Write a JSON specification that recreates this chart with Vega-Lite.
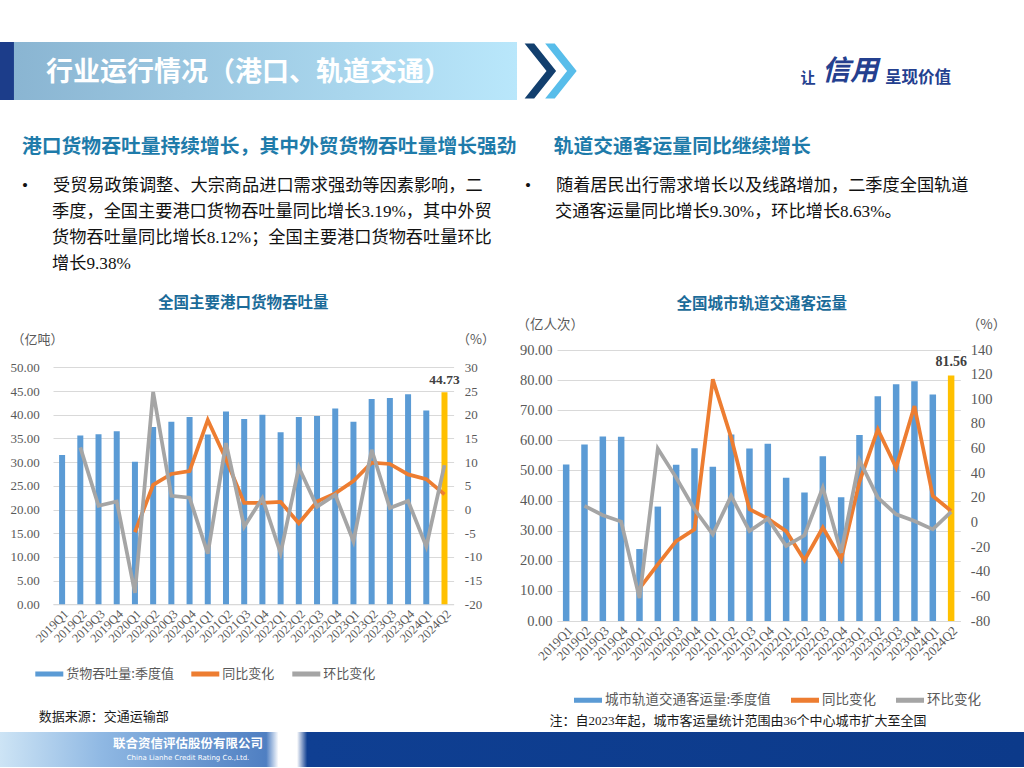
{
  "$schema": "https://vega.github.io/schema/vega-lite/v6.json",
  "padding": {"top": 42, "left": 0, "right": 0, "bottom": 0},
  "background": "white",
  "config": {
    "view": {"stroke": null},
    "axis": {"labelFont": "Liberation Serif", "labelColor": "#595959", "ticks": false, "tickSize": 0, "domain": false, "grid": false, "titleFont": "Noto Sans CJK SC", "titleFontWeight": "normal", "titleColor": "#595959", "labelOverlap": false},
    "title": {"font": "Noto Sans CJK SC", "fontWeight": "bold", "fontSize": 15.5, "color": "#1b6b99", "anchor": "middle", "frame": "group"}
  },
  "spacing": 37,
  "vconcat": [
    {
      "spacing": 0,
      "hconcat": [
        {
          "width": 517, "height": 58,
          "data": {"values": [{}]},
          "layer": [
            {"mark": {"type": "rect", "color": {"gradient": "linear", "x1": 0, "x2": 1, "y1": 0, "y2": 0, "stops": [{"offset": 0, "color": "#1c3d8a"}, {"offset": 0.026, "color": "#1c3d8a"}, {"offset": 0.028, "color": "#8ab5d2"}, {"offset": 1, "color": "#b9e7fb"}]}}},
            {"mark": {"type": "text", "text": "行业运行情况（港口、轨道交通）", "font": "Noto Sans CJK SC", "fontSize": 27, "fontWeight": "bold", "color": "#ffffff", "align": "center", "baseline": "middle", "dx": -10, "dy": 2}}
          ]
        },
        {
          "width": 70, "height": 58,
          "data": {"values": [{}]},
          "layer": [
            {"mark": {"type": "point", "shape": "M-1,-1L-0.65,-1L0.15,0L-0.65,1L-1,1L-0.2,0Z", "size": 3000, "filled": true, "color": "#123f6e", "opacity": 1, "strokeWidth": 0}},
            {"mark": {"type": "point", "shape": "M-0.25,-1L0.1,-1L0.9,0L0.1,1L-0.25,1L0.55,0Z", "size": 3000, "filled": true, "color": "#58bdea", "opacity": 1, "strokeWidth": 0}}
          ]
        },
        {
          "width": 437, "height": 58,
          "data": {"values": [{}]},
          "layer": [
            {"mark": {"type": "text", "text": "让", "font": "Noto Sans CJK SC", "fontSize": 15, "fontWeight": "bold", "color": "#24408f", "align": "center", "baseline": "middle", "dx": 2.5, "dy": 7}},
            {"mark": {"type": "text", "text": "信用", "font": "Noto Sans CJK SC", "fontSize": 28, "fontWeight": "bold", "fontStyle": "italic", "color": "#24408f", "align": "center", "baseline": "middle", "dx": 44.5, "dy": 1}},
            {"mark": {"type": "text", "text": "呈现价值", "font": "Noto Sans CJK SC", "fontSize": 16.5, "fontWeight": "bold", "color": "#24408f", "align": "center", "baseline": "middle", "dx": 112.5, "dy": 7}}
          ]
        }
      ]
    },
    {
      "spacing": 22,
      "vconcat": [
        {
          "spacing": 6,
          "hconcat": [
            {
              "width": 519, "height": 1,
              "data": {"values": [{}]},
              "mark": {"type": "rect", "opacity": 0},
              "title": {
                "text": "港口货物吞吐量持续增长，其中外贸货物吞吐量增长强劲",
                "subtitle": ["•\u3000\u2005\u2009受贸易政策调整、大宗商品进口需求强劲等因素影响，二", "\u200d\u3000\u2002\u2005季度，全国主要港口货物吞吐量同比增长3.19%，其中外贸", "\u200d\u3000\u2002\u2005货物吞吐量同比增长8.12%；全国主要港口货物吞吐量环比", "\u200d\u3000\u2002\u2005增长9.38%"],
                "anchor": "start", "frame": "group", "dx": 22, "offset": 0,
                "font": "Noto Sans CJK SC", "fontSize": 19.8, "fontWeight": "bold", "color": "#1e7baa",
                "subtitleFont": "Liberation Serif, Noto Sans CJK SC", "subtitleFontSize": 17.2, "subtitleColor": "#111111", "subtitleLineHeight": 26, "subtitlePadding": 20
              }
            },
            {
              "width": 470, "height": 1,
              "data": {"values": [{}]},
              "mark": {"type": "rect", "opacity": 0},
              "title": {
                "text": "\u200d\u3000\u2005\u2009轨道交通客运量同比继续增长",
                "subtitle": ["•\u3000\u2005\u2009随着居民出行需求增长以及线路增加，二季度全国轨道", "\u200d\u3000\u2002\u2005交通客运量同比增长9.30%，环比增长8.63%。"],
                "anchor": "start", "frame": "group", "dx": 0, "offset": 52,
                "font": "Noto Sans CJK SC", "fontSize": 19.8, "fontWeight": "bold", "color": "#1e7baa",
                "subtitleFont": "Liberation Serif, Noto Sans CJK SC", "subtitleFontSize": 17.2, "subtitleColor": "#111111", "subtitleLineHeight": 26, "subtitlePadding": 20
              }
            }
          ]
        },
        {
          "spacing": 5,
          "vconcat": [
            {
              "spacing": 21,
              "resolve": {"scale": {"color": "independent", "x": "independent", "y": "independent"}, "legend": {"color": "independent"}},
              "hconcat": [
                {
                  "spacing": 0,
                  "hconcat": [
                    {"width": 9.7, "height": 1, "data": {"values": [{}]}, "mark": {"type": "rect", "opacity": 0}},
                    {
                      "width": 400.6, "height": 254.3,
                      "title": {"text": "全国主要港口货物吞吐量", "dx": -10, "offset": 22},
                      "data": {"values": [
                        {"q": "2019Q1", "vol": 31.5, "同比变化": null, "环比变化": null},
                        {"q": "2019Q2", "vol": 35.6, "同比变化": null, "环比变化": 13.1},
                        {"q": "2019Q3", "vol": 35.9, "同比变化": null, "环比变化": 0.8},
                        {"q": "2019Q4", "vol": 36.5, "同比变化": null, "环比变化": 1.7},
                        {"q": "2020Q1", "vol": 30.1, "同比变化": -4.8, "环比变化": -17.6},
                        {"q": "2020Q2", "vol": 37.4, "同比变化": 5.2, "环比变化": 24.8},
                        {"q": "2020Q3", "vol": 38.5, "同比变化": 7.5, "环比变化": 2.9},
                        {"q": "2020Q4", "vol": 39.5, "同比变化": 8.1, "环比变化": 2.5},
                        {"q": "2021Q1", "vol": 35.8, "同比变化": 18.9, "环比变化": -9.3},
                        {"q": "2021Q2", "vol": 40.7, "同比变化": 10.6, "环比变化": 14.0},
                        {"q": "2021Q3", "vol": 39.1, "同比变化": 1.4, "环比变化": -3.6},
                        {"q": "2021Q4", "vol": 40.0, "同比变化": 1.4, "环比变化": 2.4},
                        {"q": "2022Q1", "vol": 36.3, "同比变化": 1.6, "环比变化": -9.2},
                        {"q": "2022Q2", "vol": 39.5, "同比变化": -2.9, "环比变化": 8.9},
                        {"q": "2022Q3", "vol": 39.7, "同比变化": 1.7, "环比变化": 0.6},
                        {"q": "2022Q4", "vol": 41.3, "同比变化": 3.4, "环比变化": 3.1},
                        {"q": "2023Q1", "vol": 38.5, "同比变化": 6.0, "环比变化": -6.7},
                        {"q": "2023Q2", "vol": 43.3, "同比变化": 9.9, "环比变化": 12.6},
                        {"q": "2023Q3", "vol": 43.5, "同比变化": 9.6, "环比变化": 0.3},
                        {"q": "2023Q4", "vol": 44.3, "同比变化": 7.4, "环比变化": 1.8},
                        {"q": "2024Q1", "vol": 40.9, "同比变化": 6.4, "环比变化": -7.8},
                        {"q": "2024Q2", "vol": 44.73, "同比变化": 3.19, "环比变化": 9.38}
                      ]},
                      "encoding": {
                        "x": {"field": "q", "type": "ordinal", "sort": null, "scale": {"paddingInner": 0, "paddingOuter": 0},
                          "axis": {"labelAngle": -45, "labelFontSize": 12.5, "labelPadding": 3, "domain": true, "domainColor": "#D9D9D9", "domainWidth": 1,
                            "title": "数据来源：交通运输部", "titleAnchor": "start", "titleAlign": "left", "titleX": -14.7, "titleY": 112, "titleBaseline": "middle", "titleFontSize": 13, "titleColor": "#1a1a1a"}}
                      },
                      "layer": [
                        {
                          "encoding": {
                            "y": {"field": "vol", "type": "quantitative", "scale": {"domain": [0, 53.65], "nice": false},
                              "axis": {"orient": "left", "values": [0, 5, 10, 15, 20, 25, 30, 35, 40, 45, 50], "format": ".2f", "grid": true, "gridColor": "#D9D9D9", "labelFontSize": 13, "labelPadding": 13.7,
                                "title": "（亿吨）", "titleAngle": 0, "titleAlign": "left", "titleBaseline": "middle", "titleX": -42, "titleY": -10.7, "titleFontSize": 13}}
                          },
                          "layer": [
                            {"mark": {"type": "bar", "size": 6},
                             "encoding": {
                               "color": {"datum": "货物吞吐量:季度值", "type": "nominal",
                                 "condition": {"test": "datum.q === '2024Q2'", "value": "#FFC000"},
                                 "scale": {"domain": ["货物吞吐量:季度值", "同比变化", "环比变化"], "range": ["#5B9BD5", "#ED7D31", "#A5A5A5"]},
                                 "legend": {"orient": "none", "legendX": 35.3, "legendY": 310, "direction": "horizontal", "title": null, "padding": 0,
                                   "symbolType": "M-1,-0.18H1V0.18H-1Z", "symbolSize": 784, "symbolStrokeWidth": 0, "labelFont": "Noto Sans CJK SC", "labelFontSize": 13, "labelColor": "#595959", "labelOffset": 3, "columnPadding": 17, "labelLimit": 300,
                                   "encode": {"symbols": {"update": {"fill": [{"test": "datum.index === 0", "value": "#5B9BD5"}, {"test": "datum.index === 1", "value": "#ED7D31"}, {"value": "#A5A5A5"}], "stroke": {"value": "transparent"}, "opacity": {"value": 1}}}}}}
                             }},
                            {"transform": [{"filter": "datum.q === '2024Q2'"}],
                             "mark": {"type": "text", "baseline": "bottom", "dy": -5, "font": "Liberation Serif", "fontSize": 13.5, "fontWeight": "bold", "color": "#404040"},
                             "encoding": {"text": {"field": "vol", "type": "quantitative", "format": ".2f"}}}
                          ]
                        },
                        {
                          "transform": [{"fold": ["同比变化", "环比变化"], "as": ["series", "pct"]}],
                          "mark": {"type": "line", "strokeWidth": 3.75},
                          "encoding": {
                            "y": {"field": "pct", "type": "quantitative", "scale": {"domain": [-20, 33.65], "nice": false},
                              "axis": {"orient": "right", "values": [-20, -15, -10, -5, 0, 5, 10, 15, 20, 25, 30], "labelExpr": "datum.value + ''", "labelFontSize": 13, "labelPadding": 10.7,
                                "title": "（%）", "titleAngle": 0, "titleAlign": "left", "titleBaseline": "middle", "titleX": 3, "titleY": -10.7, "titleFontSize": 13}},
                            "color": {"field": "series", "type": "nominal",
                              "scale": {"domain": ["货物吞吐量:季度值", "同比变化", "环比变化"], "range": ["#5B9BD5", "#ED7D31", "#A5A5A5"]},
                              "legend": {"orient": "none", "legendX": 35.3, "legendY": 310, "direction": "horizontal", "title": null, "padding": 0,
                                "symbolType": "M-1,-0.18H1V0.18H-1Z", "symbolSize": 784, "symbolStrokeWidth": 0, "labelFont": "Noto Sans CJK SC", "labelFontSize": 13, "labelColor": "#595959", "labelOffset": 3, "columnPadding": 17, "labelLimit": 300,
                                "encode": {"symbols": {"update": {"fill": [{"test": "datum.index === 0", "value": "#5B9BD5"}, {"test": "datum.index === 1", "value": "#ED7D31"}, {"value": "#A5A5A5"}], "stroke": {"value": "transparent"}, "opacity": {"value": 1}}}}}}
                          }
                        }
                      ],
                      "resolve": {"scale": {"y": "independent"}}
                    }
                  ]
                },
                {
                  "width": 403.3, "height": 271,
                  "title": {"text": "全国城市轨道交通客运量", "dx": 3, "offset": 4.7},
                  "data": {"values": [
                    {"q": "2019Q1", "vol": 52.0, "同比变化": null, "环比变化": null},
                    {"q": "2019Q2", "vol": 58.6, "同比变化": null, "环比变化": 13.5},
                    {"q": "2019Q3", "vol": 61.3, "同比变化": null, "环比变化": 5.9},
                    {"q": "2019Q4", "vol": 61.2, "同比变化": null, "环比变化": 0.7},
                    {"q": "2020Q1", "vol": 23.9, "同比变化": -53.5, "环比变化": -61.3},
                    {"q": "2020Q2", "vol": 38.0, "同比变化": -34.0, "环比变化": 59.9},
                    {"q": "2020Q3", "vol": 51.9, "同比变化": -15.2, "环比变化": 36.4},
                    {"q": "2020Q4", "vol": 57.4, "同比变化": -5.6, "环比变化": 10.7},
                    {"q": "2021Q1", "vol": 51.2, "同比变化": 116.2, "环比变化": -9.6},
                    {"q": "2021Q2", "vol": 61.9, "同比变化": 68.9, "环比变化": 21.5},
                    {"q": "2021Q3", "vol": 57.3, "同比变化": 10.7, "环比变化": -7.0},
                    {"q": "2021Q4", "vol": 58.9, "同比变化": 3.1, "环比变化": 3.1},
                    {"q": "2022Q1", "vol": 47.6, "同比变化": -7.0, "环比变化": -19.1},
                    {"q": "2022Q2", "vol": 42.7, "同比变化": -30.7, "环比变化": -10.4},
                    {"q": "2022Q3", "vol": 54.7, "同比变化": -4.2, "环比变化": 28.3},
                    {"q": "2022Q4", "vol": 41.1, "同比变化": -29.9, "环比变化": -24.5},
                    {"q": "2023Q1", "vol": 61.8, "同比变化": 33.0, "环比变化": 50.5},
                    {"q": "2023Q2", "vol": 74.6, "同比变化": 75.6, "环比变化": 20.2},
                    {"q": "2023Q3", "vol": 78.6, "同比变化": 44.5, "环比变化": 6.6},
                    {"q": "2023Q4", "vol": 79.6, "同比变化": 94.5, "环比变化": 1.2},
                    {"q": "2024Q1", "vol": 75.2, "同比变化": 21.5, "环比变化": -5.6},
                    {"q": "2024Q2", "vol": 81.56, "同比变化": 9.30, "环比变化": 8.63}
                  ]},
                  "encoding": {
                    "x": {"field": "q", "type": "ordinal", "sort": null, "scale": {"paddingInner": 0, "paddingOuter": 0},
                      "axis": {"labelAngle": -45, "labelFontSize": 13, "labelPadding": 3, "domain": true, "domainColor": "#D9D9D9", "domainWidth": 1,
                        "title": "注：自2023年起，城市客运量统计范围由36个中心城市扩大至全国", "titleFont": "Liberation Serif, Noto Sans CJK SC", "titleAnchor": "start", "titleAlign": "left", "titleX": -8, "titleY": 99, "titleBaseline": "middle", "titleFontSize": 13, "titleColor": "#1a1a1a"}}
                  },
                  "layer": [
                    {
                      "encoding": {
                        "y": {"field": "vol", "type": "quantitative", "scale": {"domain": [0, 90], "nice": false},
                          "axis": {"orient": "left", "values": [0, 10, 20, 30, 40, 50, 60, 70, 80, 90], "format": ".2f", "grid": true, "gridColor": "#D9D9D9", "labelFontSize": 14.5, "labelPadding": 5,
                            "title": "（亿人次）", "titleAngle": 0, "titleAlign": "left", "titleBaseline": "middle", "titleX": -41, "titleY": -25.7, "titleFontSize": 13.5}}
                      },
                      "layer": [
                        {"mark": {"type": "bar", "size": 6.5},
                         "encoding": {
                           "color": {"datum": "城市轨道交通客运量:季度值", "type": "nominal",
                             "condition": {"test": "datum.q === '2024Q2'", "value": "#FFC000"},
                             "scale": {"domain": ["城市轨道交通客运量:季度值", "同比变化", "环比变化"], "range": ["#5B9BD5", "#ED7D31", "#A5A5A5"]},
                             "legend": {"orient": "none", "legendX": 17, "legendY": 336, "direction": "horizontal", "title": null, "padding": 0,
                               "symbolType": "M-1,-0.18H1V0.18H-1Z", "symbolSize": 784, "symbolStrokeWidth": 0, "labelFont": "Noto Sans CJK SC", "labelFontSize": 13.5, "labelColor": "#595959", "labelOffset": 3, "columnPadding": 20, "labelLimit": 300,
                               "encode": {"symbols": {"update": {"fill": [{"test": "datum.index === 0", "value": "#5B9BD5"}, {"test": "datum.index === 1", "value": "#ED7D31"}, {"value": "#A5A5A5"}], "stroke": {"value": "transparent"}, "opacity": {"value": 1}}}}}}
                         }},
                        {"transform": [{"filter": "datum.q === '2024Q2'"}],
                         "mark": {"type": "text", "baseline": "bottom", "dy": -6, "font": "Liberation Serif", "fontSize": 14, "fontWeight": "bold", "color": "#404040"},
                         "encoding": {"text": {"field": "vol", "type": "quantitative", "format": ".2f"}}}
                      ]
                    },
                    {
                      "transform": [{"fold": ["同比变化", "环比变化"], "as": ["series", "pct"]}],
                      "mark": {"type": "line", "strokeWidth": 3.75},
                      "encoding": {
                        "y": {"field": "pct", "type": "quantitative", "scale": {"domain": [-80, 140], "nice": false},
                          "axis": {"orient": "right", "values": [-80, -60, -40, -20, 0, 20, 40, 60, 80, 100, 120, 140], "labelExpr": "datum.value + ''", "labelFontSize": 14.5, "labelPadding": 10,
                            "title": "（%）", "titleAngle": 0, "titleAlign": "left", "titleBaseline": "middle", "titleX": 6, "titleY": -25.7, "titleFontSize": 13.5}},
                        "color": {"field": "series", "type": "nominal",
                          "scale": {"domain": ["城市轨道交通客运量:季度值", "同比变化", "环比变化"], "range": ["#5B9BD5", "#ED7D31", "#A5A5A5"]},
                          "legend": {"orient": "none", "legendX": 17, "legendY": 336, "direction": "horizontal", "title": null, "padding": 0,
                            "symbolType": "M-1,-0.18H1V0.18H-1Z", "symbolSize": 784, "symbolStrokeWidth": 0, "labelFont": "Noto Sans CJK SC", "labelFontSize": 13.5, "labelColor": "#595959", "labelOffset": 3, "columnPadding": 20, "labelLimit": 300,
                            "encode": {"symbols": {"update": {"fill": [{"test": "datum.index === 0", "value": "#5B9BD5"}, {"test": "datum.index === 1", "value": "#ED7D31"}, {"value": "#A5A5A5"}], "stroke": {"value": "transparent"}, "opacity": {"value": 1}}}}}}
                      }
                    }
                  ],
                  "resolve": {"scale": {"y": "independent"}}
                }
              ]
            },
            {
              "width": 1024, "height": 35,
              "data": {"values": [{}]},
              "layer": [
                {"mark": {"type": "rect", "color": {"gradient": "linear", "x1": 0, "x2": 1, "y1": 0, "y2": 0, "stops": [{"offset": 0, "color": "#cde4f5"}, {"offset": 0.1, "color": "#8fb8e3"}, {"offset": 0.26, "color": "#4f7fc2"}, {"offset": 0.272, "color": "#ffffff"}, {"offset": 0.29, "color": "#ffffff"}, {"offset": 0.3, "color": "#0f3f92"}, {"offset": 1, "color": "#0c3a8a"}]}}},
                {"mark": {"type": "text", "text": "联合资信评估股份有限公司", "font": "Noto Sans CJK SC", "fontSize": 12.5, "fontWeight": "bold", "color": "#ffffff", "align": "center", "baseline": "middle", "dx": -324, "dy": -6}},
                {"mark": {"type": "text", "text": "China Lianhe Credit Rating Co.,Ltd.", "font": "DejaVu Sans", "fontSize": 7, "color": "#ffffff", "align": "center", "baseline": "middle", "dx": -324, "dy": 8}}
              ]
            }
          ]
        }
      ]
    }
  ]
}
